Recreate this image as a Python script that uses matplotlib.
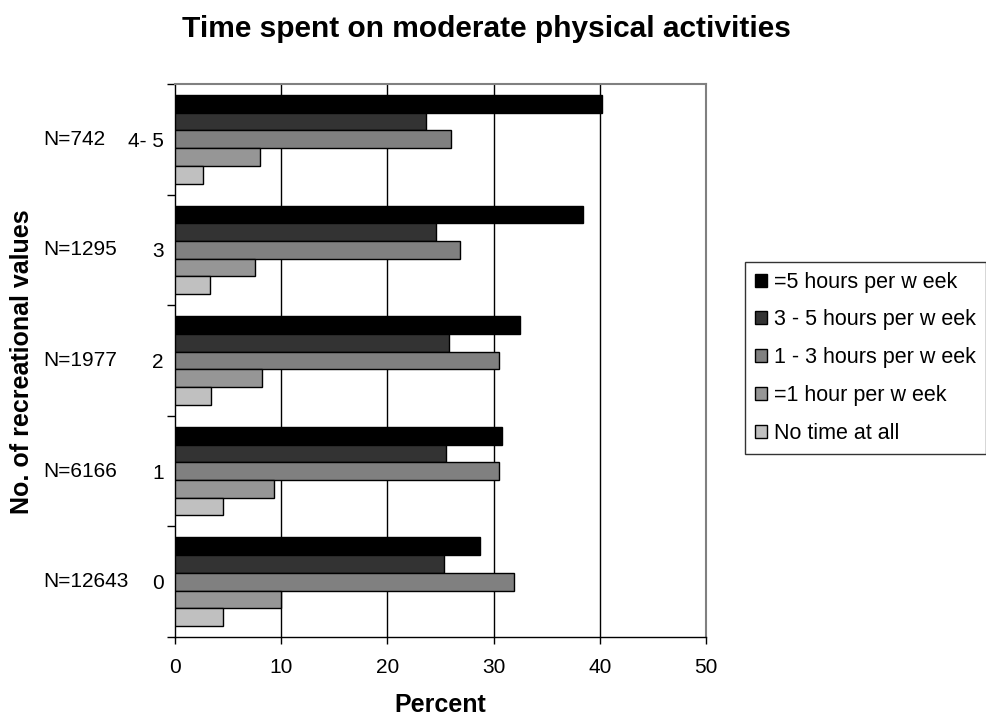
import numpy as np
import matplotlib.pyplot as plt
from matplotlib.patches import Patch
from matplotlib.transforms import blended_transform_factory

plt.rcParams["font.family"] = ["Liberation Sans", "DejaVu Sans"]

# groups, bottom to top
groups = ["0", "1", "2", "3", "4- 5"]
group_n = ["N=12643", "N=6166", "N=1977", "N=1295", "N=742"]

series_names = ["=5 hours per w eek", "3 - 5 hours per w eek", "1 - 3 hours per w eek",
                "=1 hour per w eek", "No time at all"]
ge5h = [28.7, 30.8, 32.5, 38.4, 40.2]
h3_5 = [25.3, 25.5, 25.8, 24.6, 23.6]
h1_3 = [31.9, 30.5, 30.5, 26.8, 26.0]
le1h = [10.0, 9.3, 8.2, 7.5, 8.0]
no_time = [4.5, 4.5, 3.4, 3.3, 2.6]

colors = ["#000000", "#333333", "#808080", "#969696", "#c0c0c0"]

fig = plt.figure(figsize=(9.86, 7.25), dpi=100)
ax = fig.add_axes([175 / 986, 1 - 637 / 725, (706 - 175) / 986, (637 - 84) / 725])

y = np.arange(len(groups))
h = 0.16
for i, (vals, c, name) in enumerate(zip([ge5h, h3_5, h1_3, le1h, no_time], colors, series_names)):
    ax.barh(y + (2 - i) * h, vals, height=h, color=c, edgecolor="black",
            linewidth=1.0, label=name, zorder=3)

ax.set_xlim(0, 50)
ax.set_ylim(-0.5, 4.5)
ax.set_xticks(np.arange(0, 51, 10))
ax.tick_params(axis="x", labelsize=15, length=5, width=1, pad=10)

ax.set_yticks(np.arange(-0.5, 4.6, 1))
ax.set_yticklabels([])
ax.set_yticks(y, minor=True)
ax.set_yticklabels(groups, minor=True, fontsize=15)
ax.tick_params(axis="y", which="major", length=6, width=1)
ax.tick_params(axis="y", which="minor", length=0, pad=8)

for xv in [10, 20, 30, 40]:
    ax.axvline(xv, color="black", linewidth=1.0, zorder=1)

for s in ["left", "bottom"]:
    ax.spines[s].set_color("black")
    ax.spines[s].set_linewidth(1.0)
for s in ["top", "right"]:
    ax.spines[s].set_color("#808080")
    ax.spines[s].set_linewidth(1.5)

trans = blended_transform_factory(fig.transFigure, ax.transData)
for yi, n in zip(y, group_n):
    ax.text(43 / 986, yi, n, transform=trans, ha="left", va="center", fontsize=15)

ax.set_xlabel("Percent", fontsize=18, fontweight="bold", labelpad=12)
fig.text(22 / 986, 1 - 362 / 725, "No. of recreational values", rotation=90,
         ha="center", va="center", fontsize=18, fontweight="bold")
fig.text(486 / 986, 1 - 29 / 725, "Time spent on moderate physical activities",
         ha="center", va="center", fontsize=21.5, fontweight="bold")

handles = [Patch(facecolor=c, edgecolor="black", linewidth=1.0) for c in colors]
leg = fig.legend(handles, series_names, loc="upper left",
                 bbox_to_anchor=(745 / 986, 1 - 262 / 725), fontsize=15.5,
                 frameon=True, fancybox=False, handlelength=0.55, handleheight=0.55,
                 handletextpad=0.35, labelspacing=0.78, borderpad=0.45,
                 borderaxespad=0)
leg.get_frame().set_edgecolor("black")
leg.get_frame().set_linewidth(1.0)

fig.savefig("out.png", dpi=100)
